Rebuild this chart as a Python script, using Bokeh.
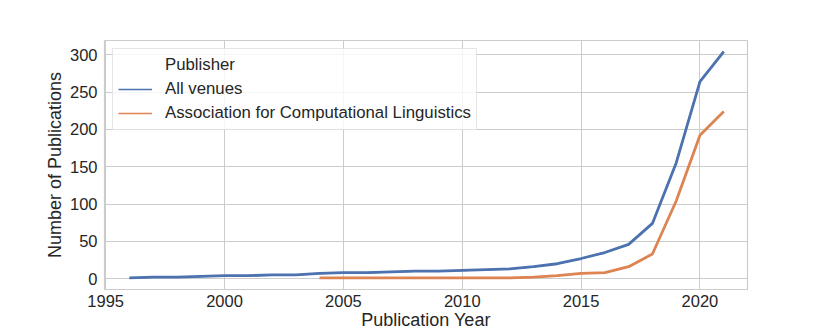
from bokeh.plotting import figure
from bokeh.models import Range1d, FixedTicker, Legend, LegendItem, ColumnDataSource
from bokeh.embed import file_html
from bokeh.resources import INLINE

# Data
years_all = list(range(1996, 2022))
pubs_all = [1, 2, 2, 3, 4, 4, 5, 5, 7, 8, 8, 9, 10, 10, 11, 12, 13,
            16, 20, 27, 35, 46, 74, 155, 264, 304]
years_acl = list(range(2004, 2022))
pubs_acl = [1, 1, 1, 1, 1, 1, 1, 1, 1, 2, 4, 7, 8, 16, 33, 104, 192, 224]

x_ticks = [1995, 2000, 2005, 2010, 2015, 2020]
y_ticks = [0, 50, 100, 150, 200, 250, 300]

series_names = ["All venues", "Association for Computational Linguistics"]
legend_title = "Publisher"
x_label = "Publication Year"
y_label = "Number of Publications"

BLUE = "#4C72B0"
ORANGE = "#DD8452"
GRID = "#cccccc"
TEXT = "#262626"
FONT = "Liberation Sans"

p = figure(width=830, height=332, output_backend="svg", toolbar_location=None,
           x_range=Range1d(1994.95, 2022.0), y_range=Range1d(-14.5, 319.0),
           min_border_left=104, min_border_right=83, min_border_top=40,
           min_border_bottom=0)

p.outline_line_color = GRID
p.outline_line_width = 1.2
p.background_fill_color = "white"
p.border_fill_color = "white"

for ax in (p.xaxis[0], p.yaxis[0]):
    ax.axis_line_color = None
    ax.major_tick_line_color = None
    ax.minor_tick_line_color = None
    ax.major_tick_out = 0
    ax.major_tick_in = 0
    ax.major_label_text_font = FONT
    ax.major_label_text_font_size = "16.5px"
    ax.major_label_text_color = TEXT
    ax.axis_label_text_font = FONT
    ax.axis_label_text_font_size = "18px"
    ax.axis_label_text_font_style = "normal"
    ax.axis_label_text_color = TEXT

p.xaxis.ticker = FixedTicker(ticks=x_ticks)
p.yaxis.ticker = FixedTicker(ticks=y_ticks)
p.xaxis.axis_label = x_label
p.yaxis.axis_label = y_label
p.xaxis.major_label_standoff = 5
p.xaxis.axis_label_standoff = 0
p.yaxis.major_label_standoff = 7
p.yaxis.axis_label_standoff = 2

p.xgrid.grid_line_color = GRID
p.ygrid.grid_line_color = GRID
p.xgrid.grid_line_width = 1
p.ygrid.grid_line_width = 1

src_all = ColumnDataSource(dict(x=years_all, y=pubs_all))
src_acl = ColumnDataSource(dict(x=years_acl, y=pubs_acl))

# thin copies underneath, used only for the legend glyphs
r_leg_all = p.line("x", "y", source=src_all, line_color=BLUE, line_width=1.5)
r_leg_acl = p.line("x", "y", source=src_acl, line_color=ORANGE, line_width=1.5)
r_title = p.line("x", "y", source=src_all, line_alpha=0)

p.line("x", "y", source=src_all, line_color=BLUE, line_width=2.8)
p.line("x", "y", source=src_acl, line_color=ORANGE, line_width=2.8)

legend = Legend(items=[
    LegendItem(label=legend_title, renderers=[r_title]),
    LegendItem(label=series_names[0], renderers=[r_leg_all]),
    LegendItem(label=series_names[1], renderers=[r_leg_acl]),
], location="top_left")
legend.margin = 8
legend.padding = 5
legend.spacing = 2
legend.glyph_width = 34
legend.glyph_height = 22
legend.label_height = 22
legend.label_standoff = 13
legend.label_text_font = FONT
legend.label_text_font_size = "16.8px"
legend.label_text_color = TEXT
legend.border_line_color = GRID
legend.border_line_width = 1
legend.background_fill_color = "white"
legend.background_fill_alpha = 0.8
p.add_layout(legend)

open("out.html", "w").write(file_html(p, INLINE))
